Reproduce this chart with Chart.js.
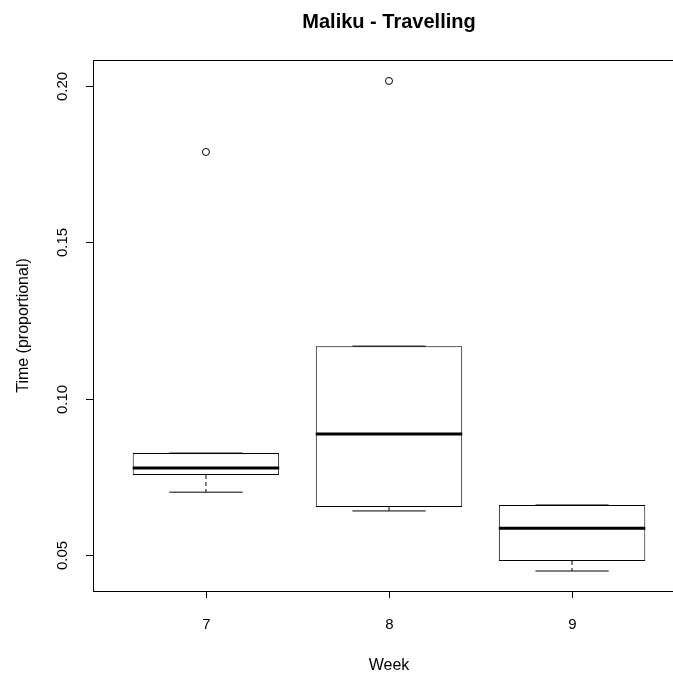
<!DOCTYPE html>
<html>
<head>
<meta charset="utf-8">
<script src="https://cdn.jsdelivr.net/npm/chart.js@4"></script>
<style>
  html, body { margin: 0; padding: 0; background: #fff; }
  #wrap { width: 673px; height: 673px; overflow: hidden; }
</style>
</head>
<body>
<div id="wrap"><canvas id="boxChart" width="700" height="673"></canvas></div>
<script>
// boxplot stats per week
const weeks = [7, 8, 9];
const lowerWhisker = [0.0701, 0.0641, 0.0449];
const q1 = [0.0756, 0.0654, 0.0481];
const median = [0.0778, 0.0887, 0.0586];
const q3 = [0.0826, 0.1168, 0.0660];
const upperWhisker = [0.0826, 0.1168, 0.0660];
const outlierWeek = [7, 8];
const outlierValue = [0.1789, 0.2016];

const yTicks = [0.05, 0.10, 0.15, 0.20];
const yTickLabels = ["0.05", "0.10", "0.15", "0.20"];
const xTickLabels = ["7", "8", "9"];

const boxHalf = 0.4;
const capHalf = 0.2;
const FONT = "'Liberation Sans', Arial, sans-serif";

function segments(fn) {
    const out = [];
    weeks.forEach((w, i) => {
        fn(w, i).forEach(p => out.push(p));
        out.push({ x: w, y: null });
    });
    return out;
}

const axesPlugin = {
    id: "rAxes",
    afterDraw(chart) {
        const ctx = chart.ctx;
        const area = chart.chartArea;
        const xs = chart.scales.x;
        const ys = chart.scales.y;
        ctx.save();
        ctx.strokeStyle = "#000";
        ctx.lineWidth = 1;
        ctx.strokeRect(area.left + 0.5, area.top + 0.5, area.right - area.left, area.bottom - area.top);

        ctx.fillStyle = "#000";
        ctx.font = "15px " + FONT;
        // y ticks, labels turned like R's las=0
        yTicks.forEach((v, i) => {
            const py = Math.round(ys.getPixelForValue(v)) + 0.5;
            ctx.beginPath();
            ctx.moveTo(area.left - 7, py);
            ctx.lineTo(area.left, py);
            ctx.stroke();
            ctx.save();
            ctx.translate(67, py);
            ctx.rotate(-Math.PI / 2);
            ctx.textAlign = "center";
            ctx.textBaseline = "alphabetic";
            ctx.fillText(yTickLabels[i], 0, 0);
            ctx.restore();
        });
        // x ticks
        weeks.forEach((w, i) => {
            const px = Math.round(xs.getPixelForValue(w)) + 0.5;
            ctx.beginPath();
            ctx.moveTo(px, area.bottom);
            ctx.lineTo(px, area.bottom + 7);
            ctx.stroke();
            ctx.textAlign = "center";
            ctx.textBaseline = "alphabetic";
            ctx.fillText(xTickLabels[i], px, 629);
        });
        const cx = (area.left + area.right) / 2;
        ctx.font = "16px " + FONT;
        ctx.textAlign = "center";
        ctx.fillText("Week", cx, 670);
        ctx.save();
        ctx.translate(28, (area.top + area.bottom) / 2);
        ctx.rotate(-Math.PI / 2);
        ctx.fillText("Time (proportional)", 0, 0);
        ctx.restore();
        ctx.font = "bold 20px " + FONT;
        ctx.fillText("Maliku - Travelling", cx, 28);
        ctx.restore();
    }
};

new Chart("boxChart", {
    type: "bar",
    data: {
        datasets: [
            {
                type: "line",
                data: segments((w, i) => [{ x: w - boxHalf, y: median[i] }, { x: w + boxHalf, y: median[i] }]),
                borderColor: "#000",
                borderWidth: 3,
                pointRadius: 0,
                spanGaps: false,
                order: 1
            },
            {
                type: "line",
                data: segments((w, i) => [{ x: w, y: q1[i] }, { x: w, y: lowerWhisker[i] }]).concat(
                      segments((w, i) => [{ x: w, y: q3[i] }, { x: w, y: upperWhisker[i] }])),
                borderColor: "#000",
                borderWidth: 1,
                borderDash: [4, 3],
                pointRadius: 0,
                spanGaps: false,
                order: 2
            },
            {
                type: "line",
                data: segments((w, i) => [{ x: w - capHalf, y: lowerWhisker[i] }, { x: w + capHalf, y: lowerWhisker[i] }]).concat(
                      segments((w, i) => [{ x: w - capHalf, y: upperWhisker[i] }, { x: w + capHalf, y: upperWhisker[i] }])),
                borderColor: "#000",
                borderWidth: 1,
                pointRadius: 0,
                spanGaps: false,
                order: 3
            },
            {
                type: "scatter",
                data: outlierWeek.map((w, i) => ({ x: w, y: outlierValue[i] })),
                pointRadius: 3.5,
                pointStyle: "circle",
                backgroundColor: "#fff",
                borderColor: "#000",
                borderWidth: 1,
                order: 0
            },
            {
                type: "bar",
                data: weeks.map((w, i) => ({ x: w, y: [q1[i], q3[i]] })),
                backgroundColor: "#fff",
                borderColor: "#000",
                borderWidth: 1,
                borderSkipped: false,
                categoryPercentage: 1,
                // on a linear x axis chart.js halves the slot, so 1.6 -> 0.8 of a week
                barPercentage: 1.6,
                order: 5
            }
        ]
    },
    options: {
        responsive: false,
        animation: false,
        devicePixelRatio: 1,
        layout: { padding: { left: 93, right: 15, top: 60, bottom: 82 } },
        plugins: {
            legend: { display: false },
            title: { display: false },
            tooltip: { enabled: false }
        },
        scales: {
            x: { type: "linear", min: 6.383, max: 9.617, offset: false, display: false },
            y: { type: "linear", min: 0.0385, max: 0.2083, display: false }
        }
    },
    plugins: [axesPlugin]
});
</script>
</body>
</html>
